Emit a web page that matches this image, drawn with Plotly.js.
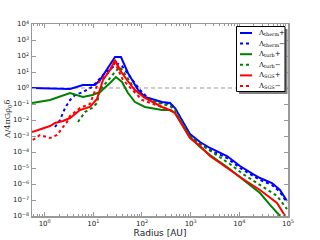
<!DOCTYPE html>
<html><head><meta charset="utf-8">
<script src="https://cdn.plot.ly/plotly-3.0.1.min.js"></script>
<style>html,body{margin:0;padding:0;background:#fff;}#c{width:320px;height:240px;}</style>
</head><body><div id="c"></div>
<script>
// Λ_therm+
var thermPlusR = [0.55, 1.29, 3.32, 6.1, 10.8, 13.7, 27.9, 37.0, 51.5, 82.8, 115, 258, 376, 476, 968, 1556, 2494, 5580, 10300, 19100, 26600, 46900, 68500, 95300];
var thermPlusY = [1.0, 0.93, 0.87, 1.54, 1.54, 3.16, 86.6, 86.6, 8.66, 0.75, 0.274, 0.133, 0.115, 0.056, 0.00133, 4.2e-4, 1.78e-4, 5.6e-5, 1.33e-5, 4.2e-6, 2.37e-6, 1.15e-6, 4.2e-7, 8.66e-8];
// Λ_therm−
var thermMinusR = [1.63, 2.07, 2.62, 3.32, 4.2, 6.1, 9.4, 11.9, 17.4, 25.4, 32.1, 38.8, 44.8, 62.3, 91, 133, 258, 376, 476, 968, 1556, 2494, 5580, 10300, 19100, 26600, 46900, 68500, 95300];
var thermMinusY = [0.00365, 0.01, 0.056, 0.178, 0.365, 0.56, 1.15, 2.37, 8.66, 20.5, 31.6, 23.7, 13.3, 3.16, 0.75, 0.237, 0.115, 0.1, 0.056, 0.00115, 3.16e-4, 1.33e-4, 4.2e-5, 1e-5, 3.16e-6, 1.78e-6, 8.66e-7, 3.16e-7, 6.5e-8];
// Λ_turb+
var turbPlusR = [0.55, 1.29, 3.32, 6.1, 9.6, 13.7, 22, 29.2, 38.8, 51.5, 71.8, 115, 258, 376, 476, 968, 1556, 2494, 5580, 11900, 26600, 42700, 59400, 68500];
var turbPlusY = [0.115, 0.178, 0.487, 0.274, 0.365, 0.56, 2.05, 4.87, 2.37, 0.487, 0.133, 0.065, 0.042, 0.042, 0.0274, 8.66e-4, 2.05e-4, 6.5e-5, 1.15e-5, 1.78e-6, 2.74e-7, 4.9e-8, 1.54e-8, 1e-8];
// Λ_turb−
var turbMinusR = [4.84, 6.7, 9.4, 11.9, 13.7, 20, 27.9, 35.3, 49.2, 71.8, 115, 258, 376, 476, 968, 1556, 3162, 6430, 11900, 26600, 59400, 95300];
var turbMinusY = [0.0075, 0.0316, 0.056, 0.115, 0.75, 3.16, 10, 20.5, 4.87, 0.75, 0.237, 0.1, 0.075, 0.042, 0.001, 3.16e-4, 7.5e-5, 1.78e-5, 4.2e-6, 9e-7, 1.8e-7, 2.7e-8];
// Λ_SGS+
var sgsPlusR = [0.55, 1.29, 1.63, 2.38, 3.32, 5.3, 8.5, 11.9, 15.8, 22, 27.9, 35.3, 49.2, 71.8, 115, 258, 376, 476, 968, 1556, 2494, 5580, 11900, 26600, 59400, 87000];
var sgsPlusY = [0.00178, 0.0042, 0.0065, 0.0087, 0.0133, 0.042, 0.065, 0.205, 3.16, 13.3, 56, 13.3, 3.16, 0.75, 0.237, 0.065, 0.042, 0.0274, 7.5e-4, 2.4e-4, 5.6e-5, 1e-5, 2.05e-6, 4.2e-7, 6.5e-8, 1e-8];
// Λ_SGS−
var sgsMinusR = [0.57, 0.8, 1.29, 1.8, 2.38, 2.88, 3.32, 5.3, 8.5, 12.5, 20, 27.9, 40.7, 62.3, 100, 258, 476];
var sgsMinusY = [0.00056, 0.00115, 0.00075, 0.00115, 0.00365, 0.0075, 0.0178, 0.056, 0.1, 2.05, 8.66, 36.5, 3.16, 0.75, 0.178, 0.065, 0.0316];
// reference level
var refR = [0.55, 100000];
var refY = [1, 1];

// tick labels
var xTickVals = [1, 10, 100, 1000, 10000, 100000];
var xTickText = ['10<sup>0</sup>', '10<sup>1</sup>', '10<sup>2</sup>', '10<sup>3</sup>', '10<sup>4</sup>', '10<sup>5</sup>'];
var yTickVals = [1e-8, 1e-7, 1e-6, 1e-5, 1e-4, 1e-3, 1e-2, 1e-1, 1, 10, 100, 1000, 10000];
var yTickText = ['10<sup>−8</sup>', '10<sup>−7</sup>', '10<sup>−6</sup>', '10<sup>−5</sup>', '10<sup>−4</sup>', '10<sup>−3</sup>', '10<sup>−2</sup>', '10<sup>−1</sup>', '10<sup>0</sup>', '10<sup>1</sup>', '10<sup>2</sup>', '10<sup>3</sup>', '10<sup>4</sup>'];

var legendLabels = ['Λ<sub>therm</sub>+', 'Λ<sub>therm</sub>−', 'Λ<sub>turb</sub>+', 'Λ<sub>turb</sub>−', 'Λ<sub>SGS</sub>+', 'Λ<sub>SGS</sub>−'];
var colors = ['#0000ff', '#0000ff', '#008000', '#008000', '#ff0000', '#ff0000'];
var dashes = ['solid', '3px,3px', 'solid', '3px,3px', 'solid', '3px,3px'];

var series = [[thermPlusR, thermPlusY], [thermMinusR, thermMinusY], [turbPlusR, turbPlusY], [turbMinusR, turbMinusY], [sgsPlusR, sgsPlusY], [sgsMinusR, sgsMinusY]];

var traces = [{x: refR, y: refY, mode: 'lines', line: {color: '#999999', width: 1, dash: '4px,3px'}, showlegend: false, hoverinfo: 'skip'}];
series.forEach(function(s, i) {
  traces.push({x: s[0], y: s[1], mode: 'lines', name: legendLabels[i], line: {color: colors[i], width: 2, dash: dashes[i]}, showlegend: false});
});

// manual legend (matplotlib style with shadow)
var W = 256, H = 192;
function px2x(p) { return (p - 32) / W; }
function py2y(p) { return 1 - (p - 24) / H; }
var shapes = [
  {type: 'rect', xref: 'paper', yref: 'paper', x0: px2x(239), x1: px2x(287.5), y0: py2y(94), y1: py2y(29), fillcolor: '#808080', line: {width: 0}, layer: 'above'},
  {type: 'rect', xref: 'paper', yref: 'paper', x0: px2x(236.5), x1: px2x(285), y0: py2y(91.5), y1: py2y(26.5), fillcolor: '#ffffff', line: {color: '#000000', width: 1}, layer: 'above'}
];
var annotations = [];
var rowY = [33, 43.6, 54.2, 64.8, 75.4, 86];
legendLabels.forEach(function(lbl, i) {
  shapes.push({type: 'line', xref: 'paper', yref: 'paper', x0: px2x(240), x1: px2x(252), y0: py2y(rowY[i]), y1: py2y(rowY[i]), line: {color: colors[i], width: 2, dash: dashes[i]}, layer: 'above'});
  annotations.push({xref: 'paper', yref: 'paper', x: px2x(256), y: py2y(rowY[i]), xanchor: 'left', yanchor: 'middle', text: lbl, showarrow: false, font: {family: 'DejaVu Serif', size: 7, color: '#000'}});
});
// y-axis title
annotations.push({xref: 'paper', yref: 'paper', x: px2x(8), y: 0.5, xanchor: 'center', yanchor: 'middle', textangle: -90, text: 'Λ/4πGρ<sub>0</sub>δ', showarrow: false, font: {family: 'DejaVu Serif', size: 8, color: '#222222'}});

var axisCommon = {
  type: 'log', tickmode: 'array', showgrid: false, zeroline: false,
  showline: true, linecolor: '#999999', linewidth: 1.5, mirror: 'allticks',
  ticks: 'inside', ticklen: 4, tickwidth: 1, tickcolor: '#999999',
  tickfont: {family: 'DejaVu Sans', size: 7, color: '#222222'}
};
var xaxis = Object.assign({}, axisCommon, {
  range: [-0.26, 5], tickvals: xTickVals, ticktext: xTickText,
  minor: {ticks: 'inside', ticklen: 2, tickcolor: '#999999', dtick: 'D1', showgrid: false},
  title: {text: 'Radius [AU]', font: {family: 'DejaVu Sans', size: 9, color: '#222222'}, standoff: 2}
});
var yaxis = Object.assign({}, axisCommon, {
  range: [-8, 4], tickvals: yTickVals, ticktext: yTickText
});

var layout = {
  width: 320, height: 240,
  margin: {l: 32, r: 32, t: 24, b: 24},
  paper_bgcolor: '#ffffff', plot_bgcolor: '#ffffff',
  xaxis: xaxis, yaxis: yaxis,
  shapes: shapes, annotations: annotations,
  showlegend: false
};
Plotly.newPlot('c', traces, layout, {displayModeBar: false, staticPlot: true});
</script></body></html>
